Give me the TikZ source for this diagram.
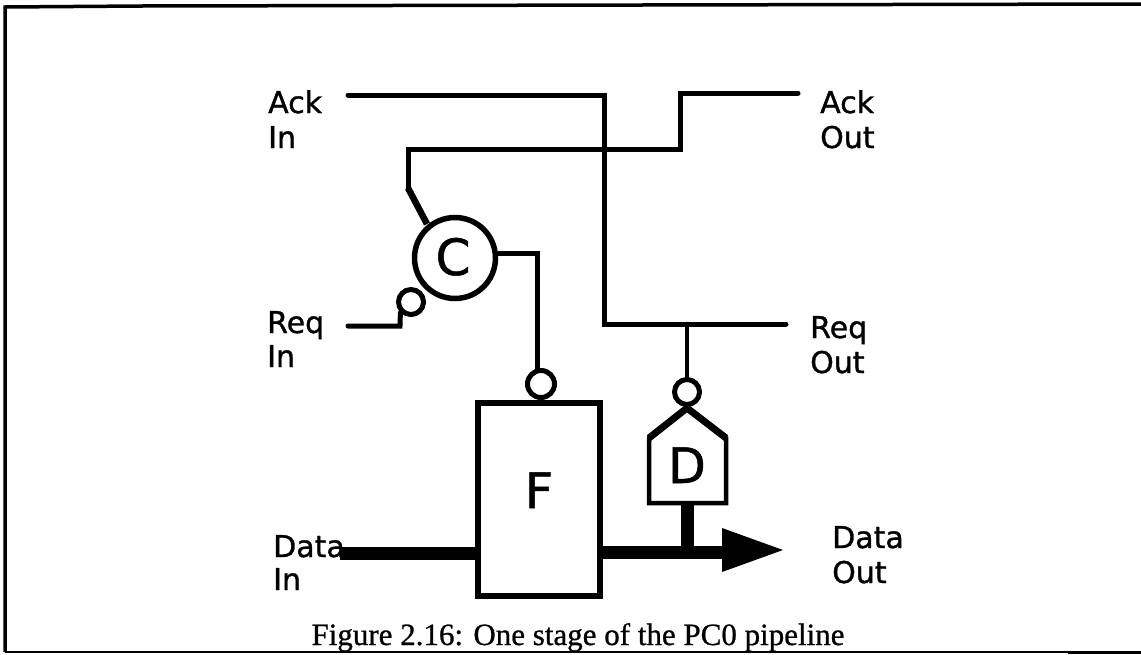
\documentclass[tikz,border=0pt]{standalone}
\usepackage{fontspec}
\setmainfont{DejaVu Sans}
\newfontfamily\labfont[RawFeature={embolden=1.0}]{DejaVu Sans}
\newfontfamily\capfont[RawFeature={embolden=0.8}]{Liberation Serif}
\tikzset{
  x=1pt,y=-1pt,
  wire/.style={draw=black,line width=5pt,line join=miter,line cap=round},
  bus/.style={draw=black,line width=13pt},
  lab/.style={anchor=base west,inner sep=0pt,font=\labfont\fontsize{30}{35}\selectfont},
  biglab/.style={anchor=base,inner sep=0pt,font=\labfont\fontsize{49}{49}\selectfont},
  bubble/.style={circle,draw=black,fill=white,line width=5pt,minimum size=25pt,inner sep=0pt},
  frameline/.style={draw=black,line width=3.5pt},
}
\begin{document}
\begin{tikzpicture}
\useasboundingbox (0,0) rectangle (1141,654);
% frame
\draw[frameline] (5,652) -- (5,7) -- (141,6) -- (1141,4);
\draw[draw=black,line width=1.5pt] (5,652) -- (1068,652);
\draw[draw=black,line width=3.5pt] (1068,652.3) -- (1141,652.3);
% gate shapes
\node[circle,draw=black,fill=white,line width=5.5pt,minimum size=81pt,inner sep=0pt] (celem) at (455,258) {};
\node[anchor=base,inner sep=0pt,font=\labfont\fontsize{50}{50}\selectfont] (ctext) at (453,275) {C};
\node[bubble] (cbub) at (411,302) {};
\node[draw=black,fill=white,line width=5.5pt,minimum width=122pt,minimum height=193pt,inner sep=0pt] (fbox) at (539,499.5) {};
\node[biglab] (ftext) at (539,508) {F};
\node[bubble,minimum size=27pt] (fbub) at (541,384) {};
\coordinate (dapex) at (687,408);
\draw[draw=black,fill=white,line width=4.5pt,line join=miter] (649,503) -- (649,438) -- (dapex) -- (726,438) -- (726,503) -- cycle;
\draw[draw=black,line width=7pt,line cap=butt] (649,438) -- (dapex) -- (726,438);
\node[biglab] (dtext) at (687,483) {D};
\node[bubble] (dbub) at (687,392) {};
% nets
\coordinate (ackinS) at (348,95);
\coordinate (ackcorner) at (604,95);
\coordinate (reqjoin) at (604,324);
\coordinate (reqoutE) at (786,324);
\coordinate (reqtap) at (687,324);
\draw[wire] (ackinS) -- (ackcorner) -- (reqjoin) -- (reqoutE);
\draw[wire,line width=4.5pt] (reqtap) -- (dbub.north);
\coordinate (ackoutE) at (798,93);
\coordinate (ackoutA) at (680,93);
\coordinate (ackoutB) at (680,149);
\coordinate (ackoutC) at (408,149);
\coordinate (ackoutD) at (408,188);
\coordinate (celemin) at (427,224);
\draw[wire] (ackoutE) -- (ackoutA) -- (ackoutB) -- (ackoutC) -- (ackoutD);
\draw[draw=black,line width=6.5pt] (ackoutD) -- (celemin);
\coordinate (reqinS) at (348,326);
\coordinate (reqinB) at (400,326);
\draw[wire] (reqinS) -- (reqinB) -- (cbub.south west);
\coordinate (cA) at (537,253);
\draw[wire,line cap=butt] (celem.east |- cA) -- (cA) -- (537,371);
% stubs touching box
\draw[draw=black,line width=8pt] (fbub.south) -- (fbub.south |- fbox.north);
% buses
\coordinate (datainS) at (340,553);
\draw[bus] (datainS) -- (fbox.west |- datainS);
\coordinate (arrowbase) at (722,552);
\draw[bus] (fbox.east |- arrowbase) -- (arrowbase);
\coordinate (stemB) at (687,505);
\draw[bus] (stemB) -- (687,552);
\fill[black] (722,528) -- (783,550) -- (722,572) -- cycle;
% labels
\node[lab] (l1) at (268,113) {Ack};
\node[lab] (l2) at (268,148) {In};
\node[lab] (l3) at (267,333) {Req};
\node[lab] (l4) at (267,367) {In};
\node[lab] (l5) at (273,557) {Data};
\node[lab] (l6) at (273,590) {In};
\node[lab] (l7) at (820,113) {Ack};
\node[lab] (l8) at (820,148) {Out};
\node[lab] (l9) at (810,338) {Req};
\node[lab] (l10) at (810,373) {Out};
\node[lab] (l11) at (832,548) {Data};
\node[lab] (l12) at (832,583) {Out};
\node[anchor=base,inner sep=0pt,font=\capfont\fontsize{31}{31}\selectfont] (cap) at (578,645) {Figure 2.16: One stage of the PC0 pipeline};
\end{tikzpicture}
\end{document}
